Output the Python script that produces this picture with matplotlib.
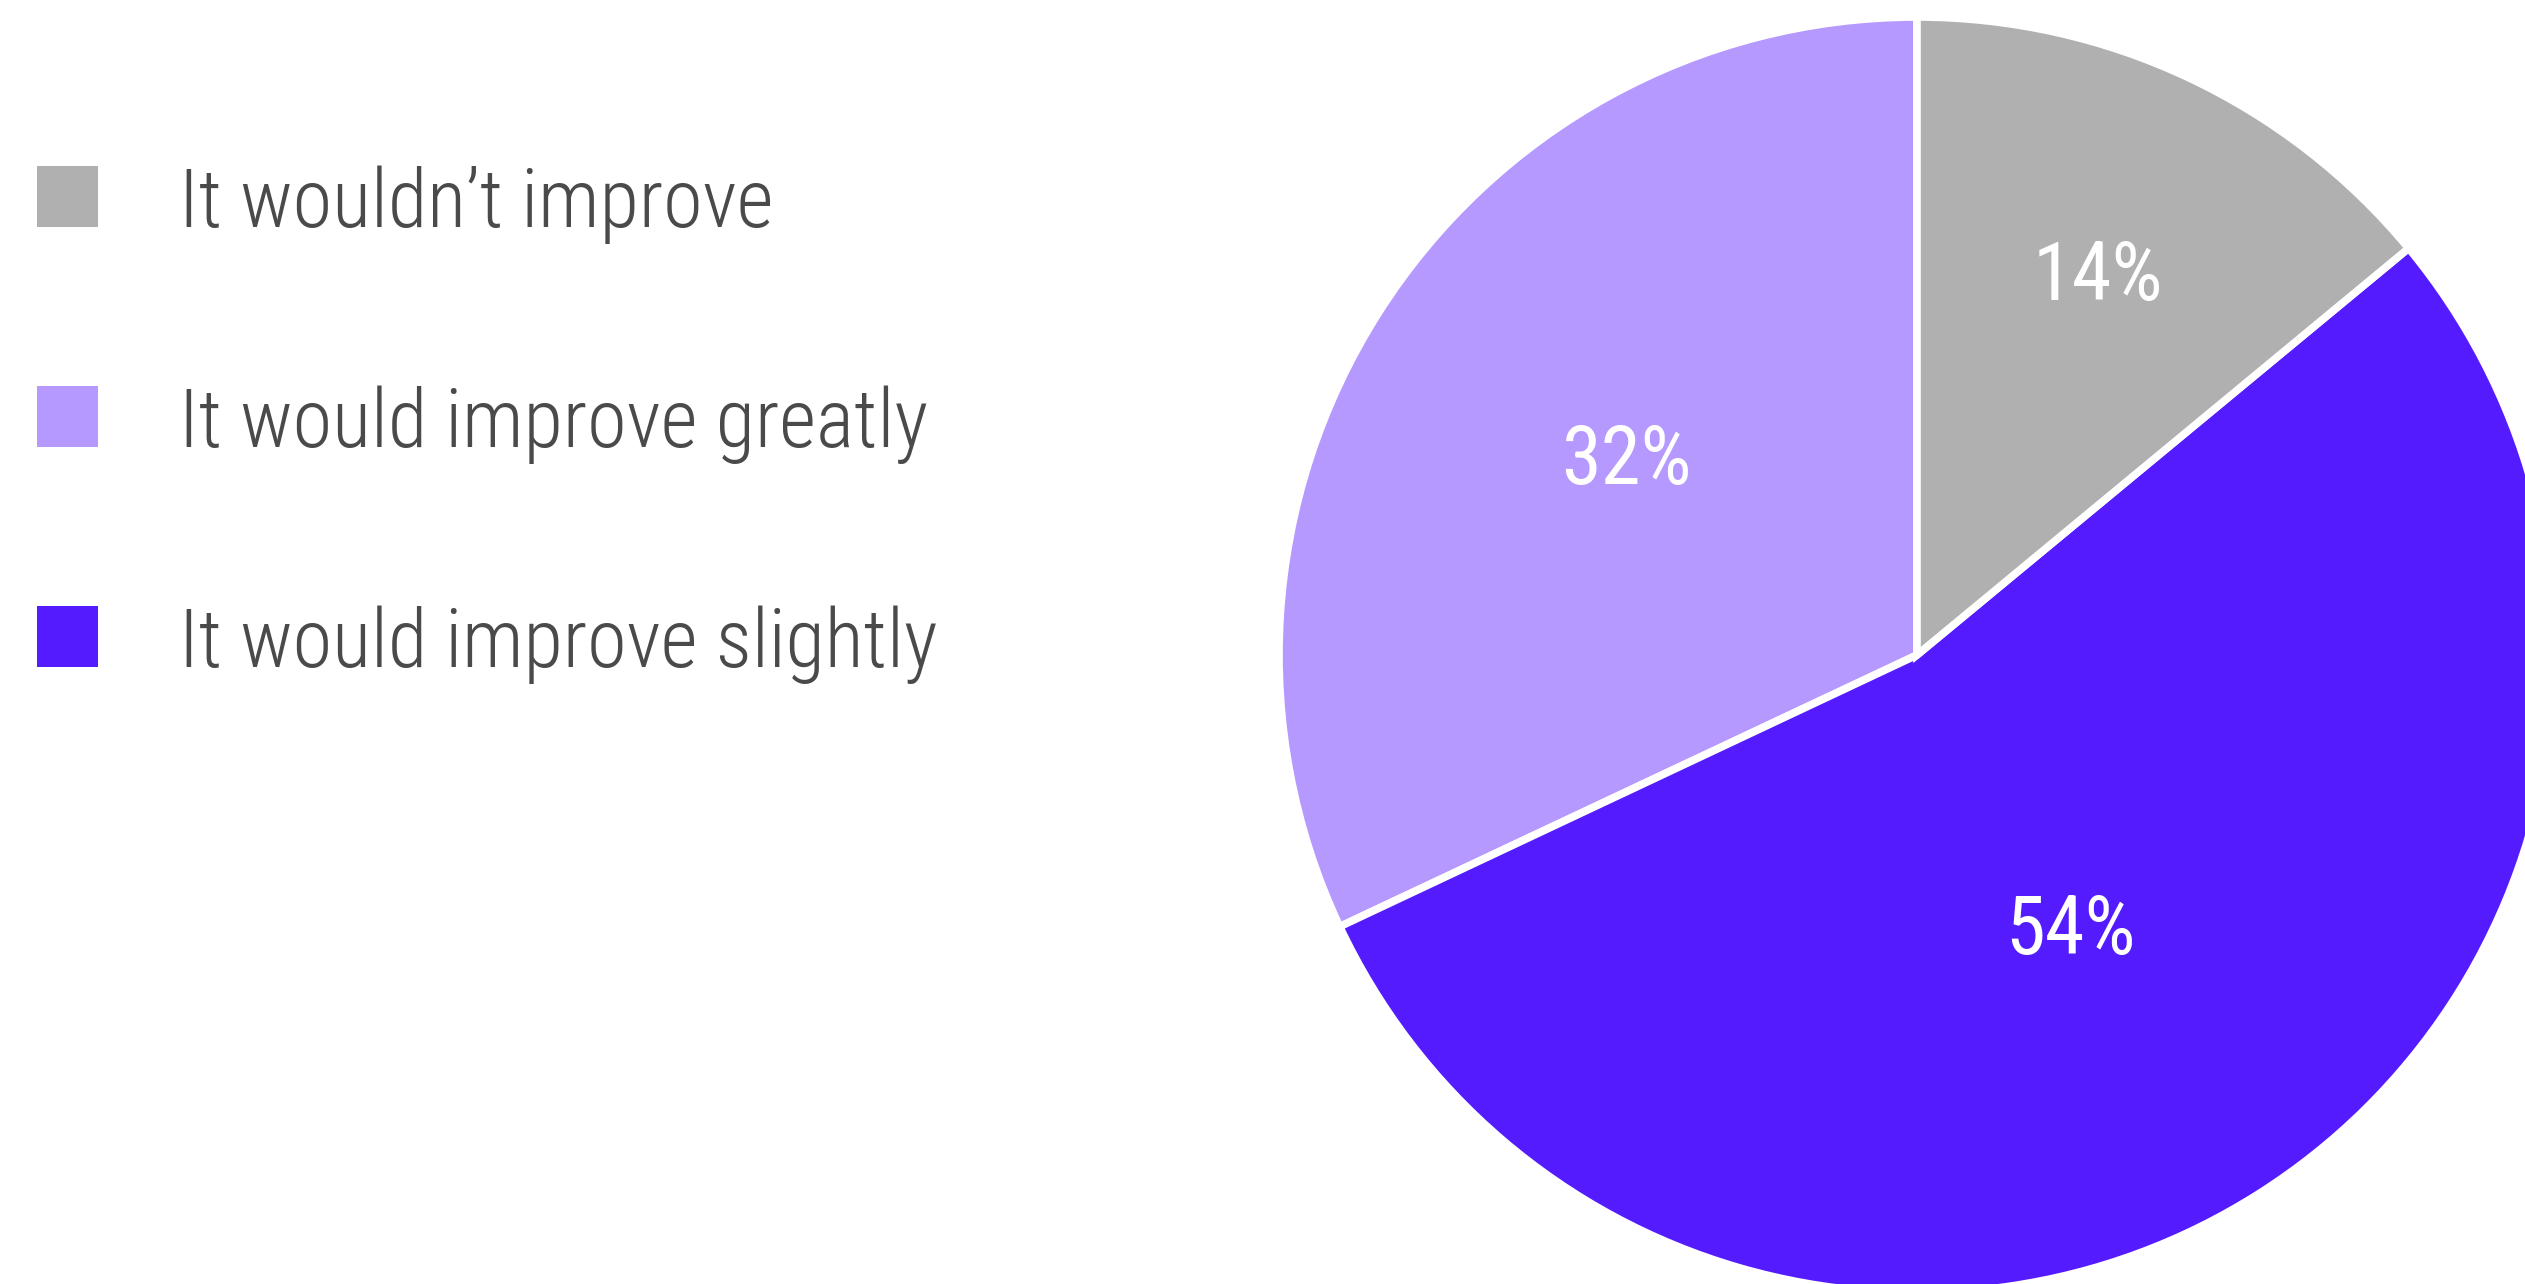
import numpy as np
import matplotlib
matplotlib.use("Agg")
import matplotlib.pyplot as plt
from matplotlib.patches import Rectangle

# Survey answers and their shares (percent)
categories = ["It wouldn\u2019t improve", "It would improve greatly", "It would improve slightly"]
shares = [14, 32, 54]
colors = ["#B0B0B0", "#B599FF", "#541BFF"]

# Order in which slices are laid out counter-clockwise from 12 o'clock
pie_order = [1, 2, 0]
# Placement of each percentage label: radius fraction and angle nudge (deg), per category
label_dist = [0.665, 0.553, 0.488]
label_nudge = [0.0, -2.1, -2.9]

W, H = 2525, 1284
fig = plt.figure(figsize=(W / 100, H / 100), dpi=100)
ax = fig.add_axes([0, 0, 1, 1])

cx, cy, R = 1917, H - 655, 638
vals = [shares[i] for i in pie_order]
cols = [colors[i] for i in pie_order]

cond = ["Roboto Condensed", "IBM Plex Sans Condensed", "DejaVu Sans"]

wedges, texts, autotexts = ax.pie(
    vals, colors=cols, startangle=90, counterclock=True,
    center=(cx, cy), radius=R,
    autopct=lambda p: f"{p:.0f}%",
    wedgeprops=dict(edgecolor="white", linewidth=5.5),
    textprops=dict(color="white", fontsize=58, family=cond),
)

cap = 57  # approx cap height of the labels, px
for w, t, i in zip(wedges, autotexts, pie_order):
    th = np.deg2rad((w.theta1 + w.theta2) / 2 + label_nudge[i])
    d = label_dist[i] * R
    t.set_position((cx + d * np.cos(th), cy + d * np.sin(th) - cap / 2))
    t.set_ha("center")
    t.set_va("baseline")

# Legend: colour swatch + label per category
for k, (lab, col) in enumerate(zip(categories, colors)):
    ybot = H - 227 - 220 * k
    ax.add_patch(Rectangle((37, ybot), 61, 61, facecolor=col, edgecolor="none"))
    ax.text(179, ybot, lab, fontsize=58, family=cond,
            fontweight=300, color="#4a4a4a", ha="left", va="baseline")

ax.set_xlim(0, W)
ax.set_ylim(0, H)
ax.axis("off")

fig.savefig("out.png", dpi=100, facecolor="white")
